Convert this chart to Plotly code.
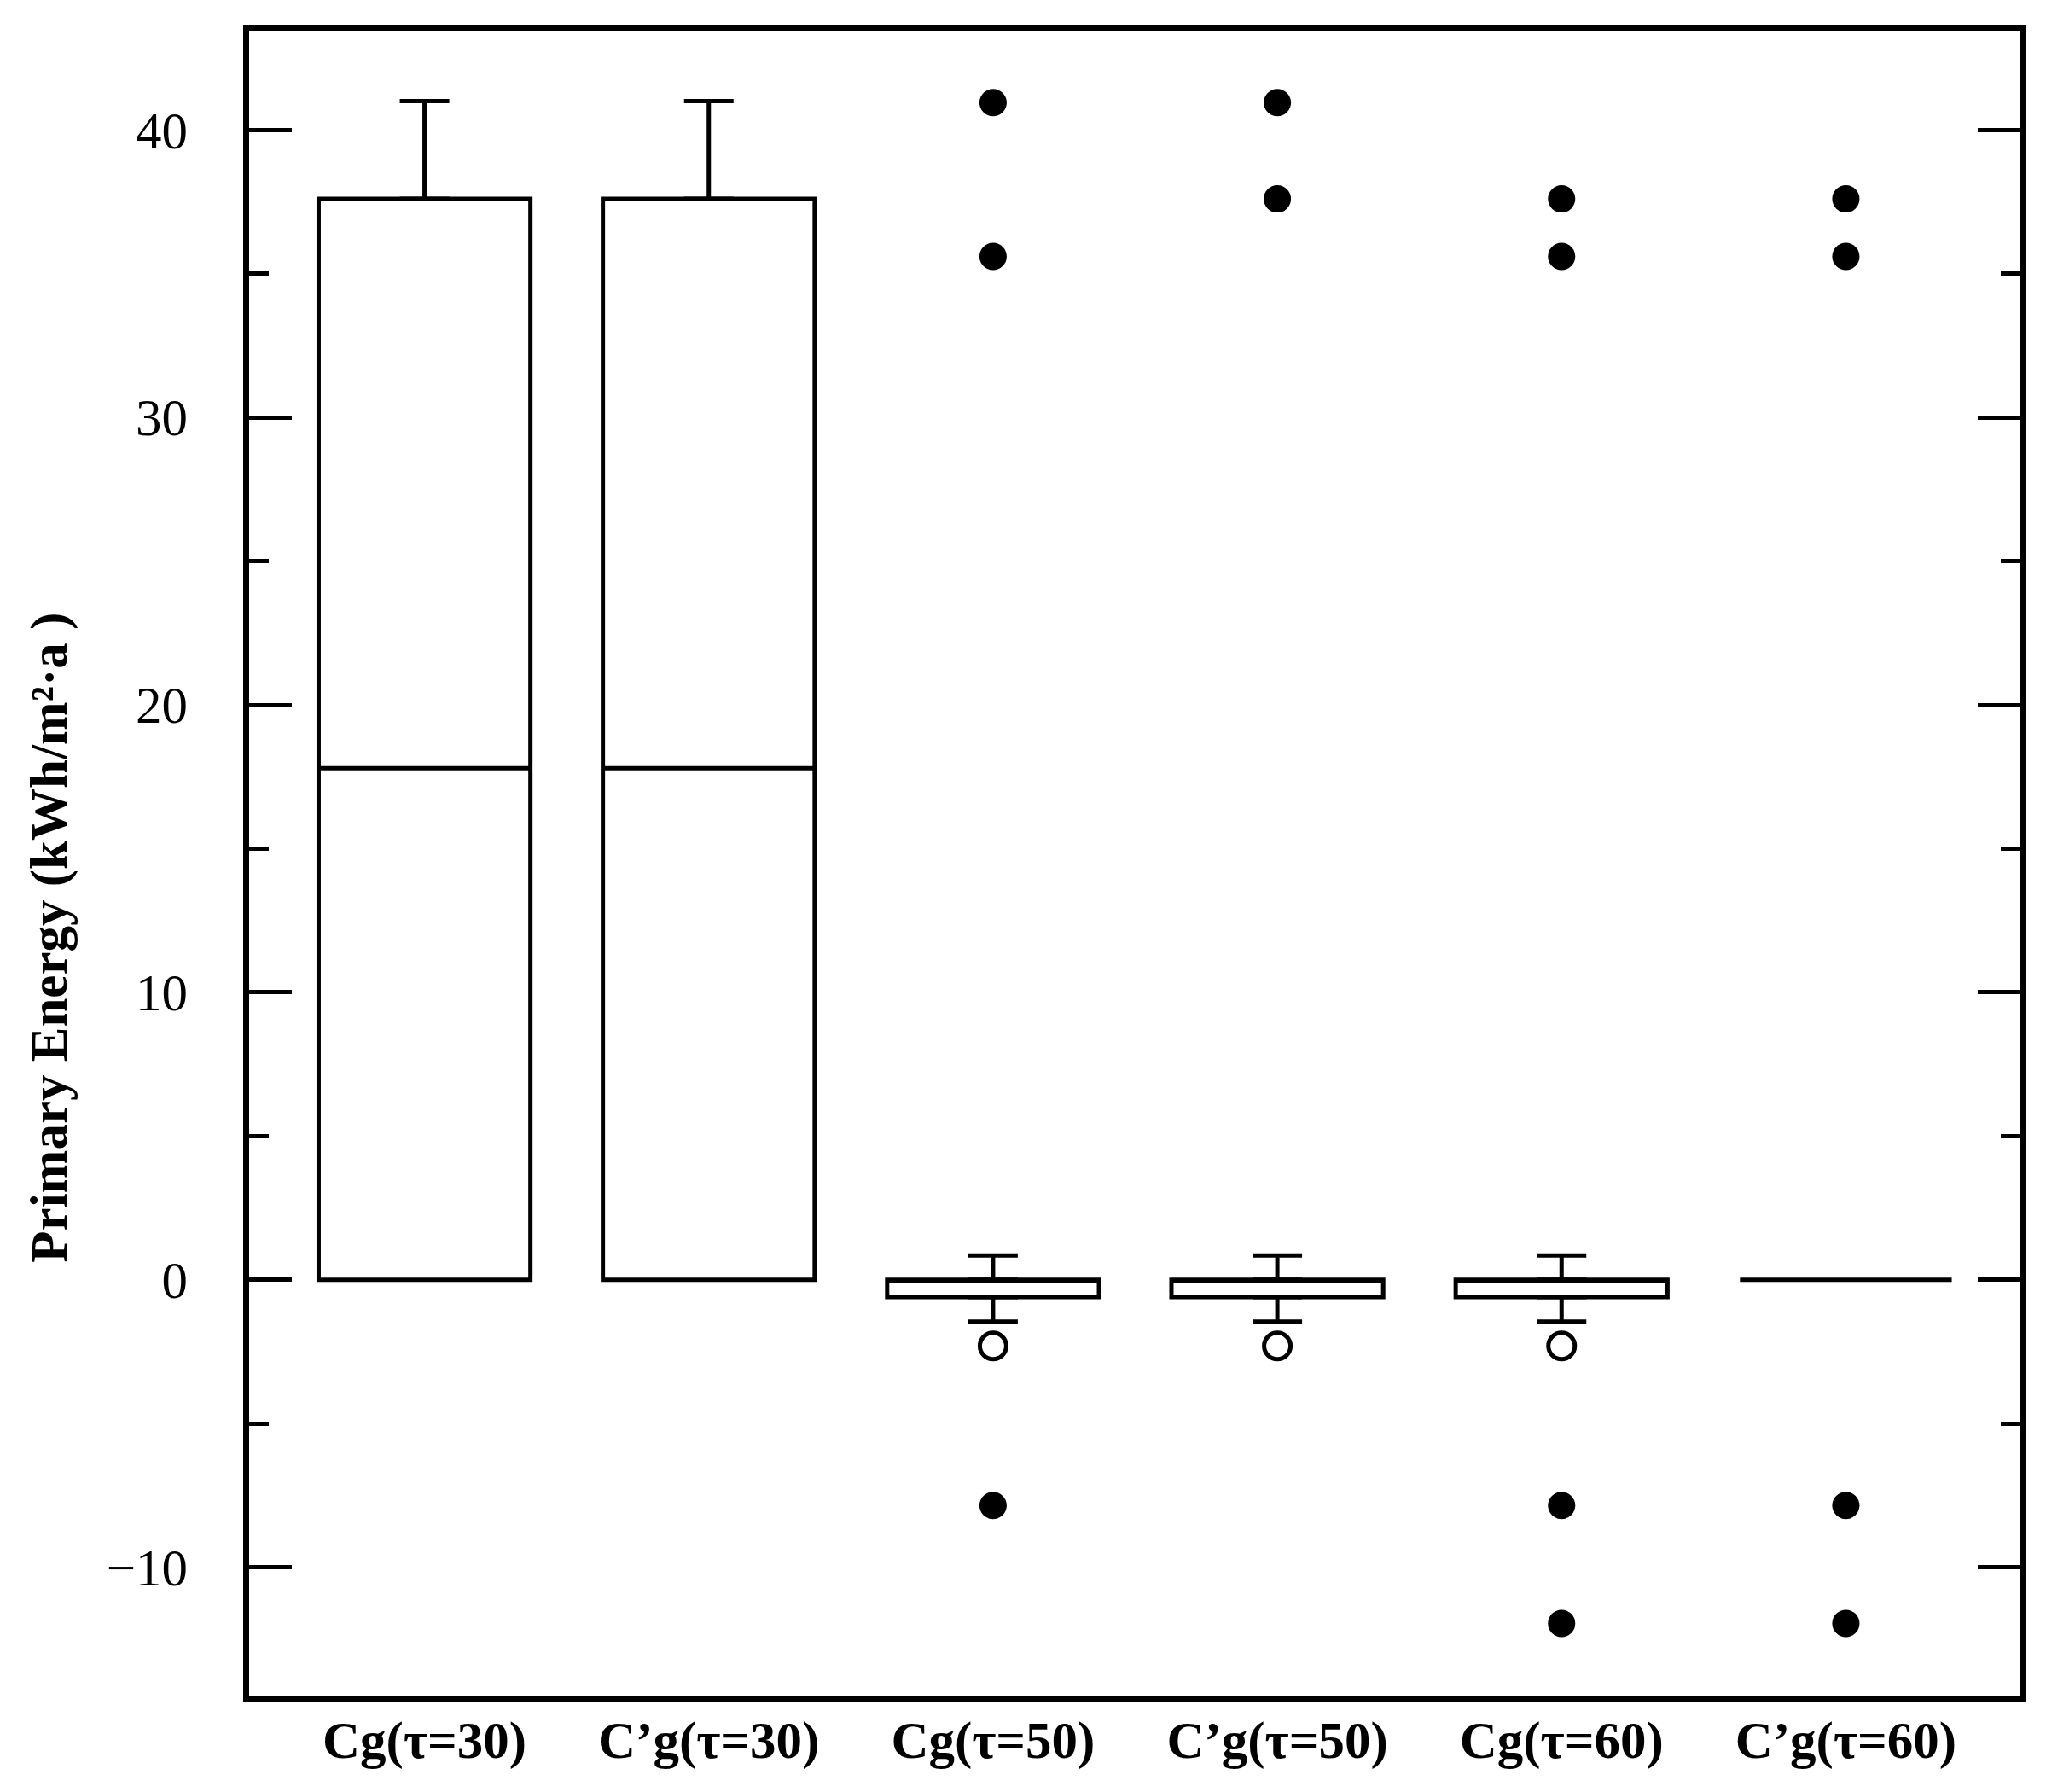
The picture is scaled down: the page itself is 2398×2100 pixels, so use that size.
import plotly.graph_objects as go

# ---- data ----
categories = ["Cg(τ=30)", "C’g(τ=30)", "Cg(τ=50)", "C’g(τ=50)", "Cg(τ=60)", "C’g(τ=60)"]
q1 = [0.0, 0.0, -0.6, -0.6, -0.6, 0.0]
median = [17.8, 17.8, 0.0, 0.0, 0.0, 0.0]
q3 = [37.6, 37.6, 0.0, 0.0, 0.0, 0.0]
upper_whisker = [41.0, 41.0, 0.85, 0.85, 0.85, 0.0]
lower_whisker = [0.0, 0.0, -1.45, -1.45, -1.45, 0.0]

# outliers (open circles) and extreme values (filled dots)
outlier_cat = ["Cg(τ=50)", "C’g(τ=50)", "Cg(τ=60)"]
outlier_val = [-2.3, -2.3, -2.3]
extreme_cat = ["Cg(τ=50)", "Cg(τ=50)", "Cg(τ=50)",
               "C’g(τ=50)", "C’g(τ=50)",
               "Cg(τ=60)", "Cg(τ=60)", "Cg(τ=60)", "Cg(τ=60)",
               "C’g(τ=60)", "C’g(τ=60)", "C’g(τ=60)", "C’g(τ=60)"]
extreme_val = [40.95, 35.6, -7.85,
               40.95, 37.6,
               37.6, 35.6, -7.85, -11.95,
               37.6, 35.6, -7.85, -11.95]

LW = 5
SERIF = "Liberation Serif"

fig = go.Figure()

# boxes (whiskers drawn separately so they get caps)
fig.add_trace(go.Box(
    x=categories, q1=q1, median=median, q3=q3,
    lowerfence=q1, upperfence=q3,
    width=0.745, fillcolor="white",
    line=dict(color="black", width=LW),
    boxpoints=False, showlegend=False, hoverinfo="skip",
))

# upper whiskers with caps
up_x = [c for c, u, t in zip(categories, upper_whisker, q3) if u > t]
up_y = [t for u, t in zip(upper_whisker, q3) if u > t]
up_len = [u - t for u, t in zip(upper_whisker, q3) if u > t]
fig.add_trace(go.Scatter(
    x=up_x, y=up_y, mode="markers",
    marker=dict(size=2, color="black"),
    error_y=dict(type="data", symmetric=False, array=up_len,
                 arrayminus=[0] * len(up_len), color="black",
                 thickness=LW, width=29),
    showlegend=False, hoverinfo="skip",
))

# lower whiskers with caps
lo_x = [c for c, l, b in zip(categories, lower_whisker, q1) if l < b]
lo_y = [b for l, b in zip(lower_whisker, q1) if l < b]
lo_len = [b - l for l, b in zip(lower_whisker, q1) if l < b]
fig.add_trace(go.Scatter(
    x=lo_x, y=lo_y, mode="markers",
    marker=dict(size=2, color="black"),
    error_y=dict(type="data", symmetric=False, array=[0] * len(lo_len),
                 arrayminus=lo_len, color="black",
                 thickness=LW, width=29),
    showlegend=False, hoverinfo="skip",
))

fig.add_trace(go.Scatter(
    x=outlier_cat, y=outlier_val, mode="markers",
    marker=dict(symbol="circle-open", size=31, color="black",
                line=dict(width=5, color="black")),
    showlegend=False, hoverinfo="skip",
))
fig.add_trace(go.Scatter(
    x=extreme_cat, y=extreme_val, mode="markers",
    marker=dict(symbol="circle", size=32, color="black"),
    showlegend=False, hoverinfo="skip",
))

# page body has an 8px margin, so the figure is 8px smaller each way
fig.update_layout(
    width=2390, height=2092,
    margin=dict(l=284, r=30, t=28, b=112),
    plot_bgcolor="white", paper_bgcolor="white",
    font=dict(family=SERIF, color="black"),
)
fig.update_xaxes(
    type="category", categoryorder="array", categoryarray=categories,
    range=[-0.617, 5.614],
    showline=True, linecolor="black", linewidth=6.5, mirror=True,
    showgrid=False, zeroline=False, ticks="",
    tickfont=dict(family=SERIF, size=61, color="black", weight="bold"),
    ticklabelstandoff=-8,
)
fig.update_yaxes(
    range=[-14.49, 43.45],
    tickvals=[-10, 0, 10, 20, 30, 40],
    ticktext=["−10", "0", "10", "20", "30", "40"],
    showline=True, linecolor="black", linewidth=6.5, mirror="ticks",
    showgrid=False, zeroline=False,
    ticks="inside", ticklen=50, tickwidth=5, tickcolor="black",
    minor=dict(tickvals=[-5, 5, 15, 25, 35], ticks="inside", ticklen=23,
               tickwidth=5, tickcolor="black", showgrid=False),
    tickfont=dict(family=SERIF, size=61, color="black"),
    ticklabelstandoff=53,
)
fig.add_annotation(
    text="Primary Energy (kWh/m²·a )",
    xref="paper", yref="paper", x=-0.1127, y=0.4556,
    xanchor="center", yanchor="middle", textangle=-90, showarrow=False,
    font=dict(family=SERIF, size=61, color="black", weight="bold"),
)

fig.write_html("out.html")
